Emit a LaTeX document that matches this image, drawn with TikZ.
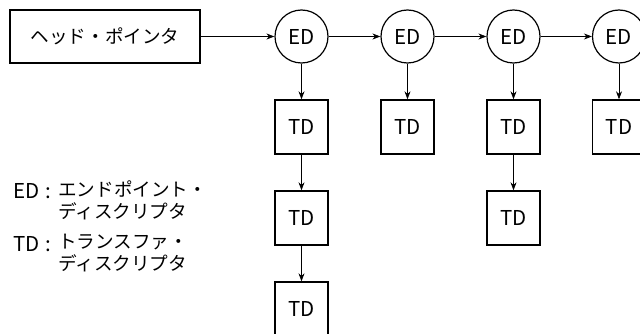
\documentclass[tikz,border=0pt]{standalone}
\usepackage{fontspec}
\setmainfont{Noto Sans CJK JP}
\usetikzlibrary{arrows.meta}
\begin{document}
\begin{tikzpicture}[x=1pt,y=-1pt,
    font=\fontsize{18.6}{21.5}\selectfont,
    latin/.style={font=\fontsize{20.5}{24}\selectfont},
    headbox/.style={draw, line width=1.4pt, minimum width=190pt, minimum height=53pt, inner sep=0pt},
    edcirc/.style={draw, circle, latin, line width=1.2pt, minimum size=53pt, inner sep=0pt},
    tdbox/.style={draw, latin, line width=1.4pt, minimum width=53pt, minimum height=54pt, inner sep=0pt},
    link/.style={-{Stealth[length=8pt,width=6pt]}, line width=0.7pt}]
    \clip (0,0) rectangle (640,334);
    \useasboundingbox (0,0) rectangle (640,334);
    \node [headbox] (head) at (105,36.5) {ヘッド・ポインタ};
    \node [edcirc] (ed1) at (301.5,36.5) {ED};
    \node [edcirc] (ed2) at (407.5,36.5) {ED};
    \node [edcirc] (ed3) at (513.5,36.5) {ED};
    \node [edcirc] (ed4) at (619,36.5) {ED};
    \node [tdbox] (td11) at (301.5,127) {TD};
    \node [tdbox] (td12) at (301.5,218) {TD};
    \node [tdbox] (td13) at (301.5,309) {TD};
    \node [tdbox] (td21) at (407.5,127) {TD};
    \node [tdbox] (td31) at (513.5,127) {TD};
    \node [tdbox] (td32) at (513.5,218) {TD};
    \node [tdbox] (td41) at (619,127) {TD};
    \draw [link] (head) -- (ed1);
    \draw [link] (ed1) -- (ed2);
    \draw [link] (ed2) -- (ed3);
    \draw [link] (ed3) -- (ed4);
    \draw [link] (ed1) -- (td11);
    \draw [link] (td11) -- (td12);
    \draw [link] (td12) -- (td13);
    \draw [link] (ed2) -- (td21);
    \draw [link] (ed3) -- (td31);
    \draw [link] (td31) -- (td32);
    \draw [link] (ed4) -- (td41);
    % legend
    \node [anchor=west, inner sep=0pt, latin] (edkey) at (13,191) {ED\hspace{6pt}:};
    \node [anchor=north west, inner sep=0pt, align=left] (edtext) at (58,181) {エンドポイント・\\ディスクリプタ};
    \node [anchor=west, inner sep=0pt, latin] (tdkey) at (13,244) {TD\hspace{6pt}:};
    \node [anchor=north west, inner sep=0pt, align=left] (tdtext) at (58,234) {トランスファ・\\ディスクリプタ};
\end{tikzpicture}
\end{document}
